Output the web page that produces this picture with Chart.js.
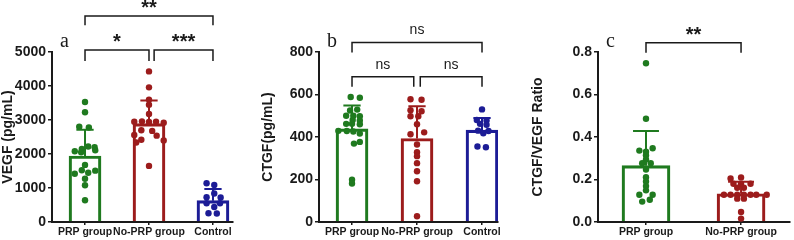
<!DOCTYPE html>
<html>
<head>
<meta charset="utf-8">
<script src="https://cdn.jsdelivr.net/npm/chart.js@4.4.1/dist/chart.umd.min.js"></script>
<style>
  html, body { margin: 0; padding: 0; background: #fff; }
  body { width: 794px; height: 240px; position: relative; overflow: hidden; }
  canvas { position: absolute; top: 0; }
</style>
</head>
<body>
<canvas id="chartA" width="260" height="240" style="left:0px"></canvas>
<canvas id="chartB" width="270" height="240" style="left:260px"></canvas>
<canvas id="chartC" width="264" height="240" style="left:530px"></canvas>
<script>
const cats3 = ['PRP group', 'No-PRP group', 'Control'];
const cats2 = ['PRP group', 'No-PRP group'];
const groupColors = ['#1f7a1f', '#9c1c1c', '#1c1c96'];

// a: VEGF (pg/mL)
const vegfPrp = [3530, 3230, 2800, 2780, 2220, 2200, 2150, 2110, 2080, 2050, 1680, 1520, 1510, 1450, 1420, 1270, 1080, 640];
const vegfPrpJit = [0, 0, -0.09, 0.06, 0.05, 0.15, -0.05, 0.16, -0.16, -0.06, 0, -0.05, 0.16, 0.05, -0.16, 0, 0, 0];
const vegfNoPrp = [4430, 3960, 3600, 3450, 3180, 2950, 2960, 2940, 2950, 2920, 2700, 2680, 2560, 2540, 2420, 2400, 2340, 1650];
const vegfNoPrpJit = [0, 0, 0, 0, 0, -0.23, -0.11, 0, 0.11, 0.23, -0.12, 0.05, -0.23, 0.12, -0.12, 0.23, -0.2, 0];
const vegfCtrl = [1140, 1090, 840, 730, 720, 550, 550, 440, 256, 250];
const vegfCtrlJit = [-0.1, 0.02, 0.02, -0.1, 0.12, -0.1, 0.11, 0.02, -0.07, 0.06];
const vegfMeans = [1940, 2895, 627];
const vegfSd = [770, 680, 340];
const vegfBrackets = [
  { from: 0, to: 2, y: 6060, leg: 5790, text: '**' },
  { from: 0, to: 1, y: 5060, leg: 4735, text: '*' },
  { from: 1.08, to: 2, y: 5060, leg: 4735, text: '***' }
];

// b: CTGF (pg/mL)
const ctgfPrp = [588, 585, 529, 525, 500, 500, 498, 480, 478, 462, 462, 460, 429, 428, 426, 416, 377, 369, 199, 181];
const ctgfPrpJit = [-0.02, 0.12, 0.08, -0.03, -0.09, 0.02, 0.12, 0.01, 0.12, -0.09, 0, 0.12, -0.21, -0.08, 0.02, 0.12, 0.12, 0.03, 0, 0];
const ctgfNoPrp = [578, 575, 526, 521, 498, 498, 460, 422, 413, 365, 328, 310, 277, 239, 192, 27];
const ctgfNoPrpJit = [-0.1, 0.07, -0.1, 0.07, -0.1, 0.02, 0, 0.11, -0.1, 0, 0, 0, 0, 0, 0, 0];
const ctgfCtrl = [530, 480, 478, 462, 458, 430, 428, 418, 355, 352];
const ctgfCtrlJit = [0, -0.08, 0.07, -0.03, 0.07, -0.06, 0.1, 0.02, -0.07, 0.06];
const ctgfMeans = [438, 393, 432];
const ctgfSd = [110, 152, 58];
const ctgfBrackets = [
  { from: 0, to: 2, y: 845, leg: 798, text: 'ns' },
  { from: 0, to: 0.95, y: 684, leg: 637, text: 'ns' },
  { from: 1.05, to: 2, y: 684, leg: 637, text: 'ns' }
];

// c: CTGF/VEGF ratio
const ratioPrp = [0.747, 0.486, 0.347, 0.336, 0.331, 0.314, 0.294, 0.277, 0.277, 0.247, 0.211, 0.191, 0.169, 0.149, 0.128, 0.128, 0.105, 0.096];
const ratioPrpJit = [0, 0, 0.07, -0.07, 0, 0, 0, -0.04, 0.05, 0, 0, 0, 0, 0, -0.07, 0.07, 0.04, -0.04];
const ratioNoPrp = [0.205, 0.21, 0.18, 0.18, 0.18, 0.161, 0.161, 0.128, 0.128, 0.128, 0.128, 0.128, 0.128, 0.128, 0.11, 0.11, 0.047, 0.016];
const ratioNoPrpJit = [-0.11, 0, -0.08, 0, 0.1, -0.04, 0.03, -0.18, -0.11, -0.04, 0.03, 0.1, 0.16, 0.27, -0.04, 0.03, 0, 0];
const ratioMeans = [0.265, 0.133];
const ratioSd = [0.163, 0.057];
const ratioBrackets = [
  { from: 0, to: 1, y: 0.844, leg: 0.797, text: '**' }
];

const fontFamily = '"Liberation Sans", Arial, sans-serif';
const ink = '#1a1a1a';

// mean + SD error bars, significance brackets, panel letter
const marksPlugin = {
  id: 'marks',
  afterDatasetsDraw(chart, args, opts) {
    const ctx = chart.ctx;
    const xs = chart.scales.x;
    const ys = chart.scales.y;
    ctx.save();
    opts.means.forEach((m, i) => {
      const x = xs.getPixelForValue(i);
      const y0 = ys.getPixelForValue(m);
      const y1 = ys.getPixelForValue(m + opts.sds[i]);
      ctx.strokeStyle = groupColors[i];
      ctx.lineWidth = 2;
      ctx.beginPath();
      ctx.moveTo(x, y0);
      ctx.lineTo(x, y1);
      ctx.moveTo(x - opts.cap, y1);
      ctx.lineTo(x + opts.cap, y1);
      ctx.stroke();
    });

    ctx.strokeStyle = ink;
    ctx.fillStyle = ink;
    ctx.lineWidth = 1.5;
    ctx.textAlign = 'center';
    ctx.textBaseline = 'alphabetic';
    opts.brackets.forEach(b => {
      const x1 = xs.getPixelForValue(b.from);
      const x2 = xs.getPixelForValue(b.to);
      const yl = ys.getPixelForValue(b.y);
      const yg = ys.getPixelForValue(b.leg);
      ctx.beginPath();
      ctx.moveTo(x1, yg);
      ctx.lineTo(x1, yl);
      ctx.lineTo(x2, yl);
      ctx.lineTo(x2, yg);
      ctx.stroke();
      const cx = (x1 + x2) / 2;
      if (b.text === 'ns') {
        ctx.font = '14px ' + fontFamily;
        ctx.fillText(b.text, cx, yl - 8);
      } else {
        ctx.font = 'bold 20px ' + fontFamily;
        ctx.fillText(b.text, cx, yl - 1.5);
      }
    });

    ctx.font = '20px "Liberation Serif", "Times New Roman", serif';
    ctx.textAlign = 'left';
    ctx.fillText(opts.letter, chart.chartArea.left + 8, chart.chartArea.top - 5);
    ctx.restore();
  }
};

function dots(values, jitter, i) {
  return {
    type: 'scatter',
    data: values.map((v, k) => ({ x: i + jitter[k], y: v })),
    backgroundColor: groupColors[i],
    borderWidth: 0,
    pointRadius: 3.2,
    order: 0,
    clip: false
  };
}

function makeChart(id, p) {
  const datasets = p.groups.map((g, i) => dots(g[0], g[1], i));
  datasets.push({
    type: 'bar',
    data: p.means.map((m, i) => ({ x: i, y: m })),
    backgroundColor: 'rgba(255,255,255,0)',
    borderColor: groupColors.slice(0, p.means.length),
    borderWidth: 2.5,
    barThickness: p.barWidth,
    order: 1
  });

  return new Chart(document.getElementById(id), {
    type: 'bar',
    data: { datasets: datasets },
    plugins: [marksPlugin],
    options: {
      responsive: false,
      animation: false,
      events: [],
      layout: { padding: { top: 52, right: p.padRight, left: 0, bottom: 0 } },
      plugins: {
        legend: { display: false },
        tooltip: { enabled: false },
        marks: {
          means: p.means, sds: p.sds, brackets: p.brackets,
          cap: p.barWidth * 0.27, letter: p.letter
        }
      },
      scales: {
        x: {
          type: 'linear',
          min: p.xMin,
          max: p.xMax,
          offset: false,
          afterBuildTicks: s => { s.ticks = p.cats.map((c, i) => ({ value: i })); },
          afterFit: s => { s.height = 18; },
          ticks: {
            callback: v => p.cats[v],
            color: ink,
            font: { family: fontFamily, size: 10.5, weight: 'bold' },
            padding: 1,
            maxRotation: 0,
            autoSkip: false
          },
          grid: { display: true, drawOnChartArea: false, drawTicks: true, tickLength: 3, color: ink, lineWidth: 1.5, offset: false },
          border: { display: true, color: ink, width: 2 }
        },
        y: {
          min: 0,
          max: p.yMax,
          afterFit: s => { s.width = p.yWidth; },
          ticks: {
            stepSize: p.yStep,
            callback: v => p.decimals ? v.toFixed(1) : String(v),
            color: ink,
            font: { family: fontFamily, size: 14, weight: 'bold' },
            padding: 2
          },
          title: {
            display: true,
            text: p.yTitle,
            color: ink,
            font: { family: fontFamily, size: 14, weight: 'bold' },
            padding: 0
          },
          grid: { display: true, drawOnChartArea: false, drawTicks: true, tickLength: 4, color: ink, lineWidth: 1.5 },
          border: { display: true, color: ink, width: 2 }
        }
      }
    }
  });
}

makeChart('chartA', {
  cats: cats3, letter: 'a', yTitle: 'VEGF (pg/mL)',
  groups: [[vegfPrp, vegfPrpJit], [vegfNoPrp, vegfNoPrpJit], [vegfCtrl, vegfCtrlJit]],
  means: vegfMeans, sds: vegfSd, brackets: vegfBrackets,
  yMax: 5000, yStep: 1000, decimals: false,
  xMin: -0.516, xMax: 2.313, yWidth: 52, padRight: 27, barWidth: 32
});

makeChart('chartB', {
  cats: cats3, letter: 'b', yTitle: 'CTGF(pg/mL)',
  groups: [[ctgfPrp, ctgfPrpJit], [ctgfNoPrp, ctgfNoPrpJit], [ctgfCtrl, ctgfCtrlJit]],
  means: ctgfMeans, sds: ctgfSd, brackets: ctgfBrackets,
  yMax: 800, yStep: 200, decimals: false,
  xMin: -0.508, xMax: 2.246, yWidth: 59, padRight: 32, barWidth: 32
});

makeChart('chartC', {
  cats: cats2, letter: 'c', yTitle: 'CTGF/VEGF Ratio',
  groups: [[ratioPrp, ratioPrpJit], [ratioNoPrp, ratioNoPrpJit]],
  means: ratioMeans, sds: ratioSd, brackets: ratioBrackets,
  yMax: 0.8, yStep: 0.2, decimals: true,
  xMin: -0.505, xMax: 1.515, yWidth: 68, padRight: 0, barWidth: 48
});
</script>
</body>
</html>
